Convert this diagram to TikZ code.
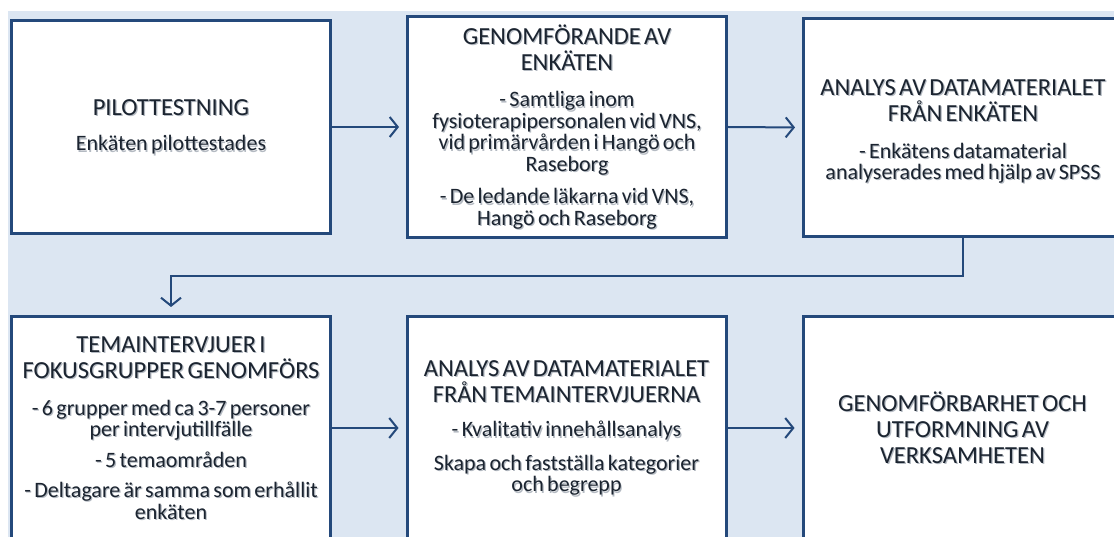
\documentclass[tikz,border=0pt]{standalone}
\usepackage{fontspec}
\setmainfont{Carlito}
\usetikzlibrary{arrows.meta,calc}

\definecolor{bgblue}{HTML}{DCE6F2}
\definecolor{edgeblue}{HTML}{24497B}
\definecolor{inkdark}{HTML}{1B2430}
\definecolor{inkshade}{HTML}{B4BAC2}

% heading and body type for the stage boxes
\newcommand\ttl{\fontsize{24.5}{26}\selectfont\lineskiplimit=-60pt}
\newcommand\bdy{\fontsize{22}{21.5}\selectfont\lineskiplimit=-60pt}

% stage text with a soft drop shadow: #1 name, #2 box it sits in, #3 text
\newcommand\stagelabel[3]{%
  \node[labelshade] (#1s) at ($(#2)+(1.2,1.2)$) {#3\par};
  \node[labeltext] (#1) at (#2) {#3\par};}

\begin{document}
\begin{tikzpicture}[x=1pt,y=-1pt,
  stagebox/.style={draw=edgeblue, line width=3pt, fill=white,
    minimum width=319pt, inner sep=0pt},
  labeltext/.style={align=center, text width=318pt, inner sep=0pt, text=inkdark},
  labelshade/.style={labeltext, text=inkshade},
  flow/.style={draw=edgeblue, line width=2pt,
    -{Straight Barb[length=8pt,width=20pt,line width=2pt]}}]

\useasboundingbox (0,0) rectangle (1114,537);
\clip (0,0) rectangle (1114,537);
\fill[bgblue] (8,11) rectangle (1130,560);

% stage boxes
\node[stagebox, minimum height=213pt] (b1) at (171,127) {};
\node[stagebox, minimum height=221pt] (b2) at (567,127) {};
\node[stagebox, minimum height=218pt] (b3) at (963,127.5) {};
\node[stagebox, minimum height=223pt] (b4) at (171,428) {};
\node[stagebox, minimum height=223pt] (b5) at (566.5,428) {};
\node[stagebox, minimum height=223pt] (b6) at (962.5,428) {};

% stage texts
\stagelabel{t1}{b1}{\ttl PILOTTESTNING\\[14pt]\bdy Enkäten pilottestades}
\stagelabel{t2}{b2}{\ttl GENOMFÖRANDE AV\\ENKÄTEN\\[15pt]\bdy - Samtliga inom\\fysioterapipersonalen vid VNS,\\vid primärvården i Hangö och\\Raseborg\\[11pt]- De ledande läkarna vid VNS,\\Hangö och Raseborg}
\stagelabel{t3}{$(b3)+(0,4)$}{\ttl ANALYS AV DATAMATERIALET\\FRÅN ENKÄTEN\\[15pt]\bdy - Enkätens datamaterial\\analyserades med hjälp av SPSS}
\stagelabel{t4}{b4}{\ttl TEMAINTERVJUER I\\FOKUSGRUPPER GENOMFÖRS\\[15pt]\bdy - 6 grupper med ca 3-7 personer\\per intervjutillfälle\\[9pt]- 5 temaområden\\[9pt]- Deltagare är samma som erhållit\\enkäten}
\stagelabel{t5}{b5}{\ttl ANALYS AV DATAMATERIALET\\FRÅN TEMAINTERVJUERNA\\[13pt]\bdy - Kvalitativ innehållsanalys\\[12pt]Skapa och fastställa kategorier\\och begrepp}
\stagelabel{t6}{b6}{\ttl GENOMFÖRBARHET OCH\\UTFORMNING AV\\VERKSAMHETEN}

% connectors
\coordinate (turn) at (0,276);
\draw[flow, shorten >=7pt] (b1.east) -- (b2.west);
\draw[flow, shorten >=7pt] (b2.east) -- (b3.west);
\draw[flow, shorten >=8pt] (b3.south) -- (b3.south |- turn) -| (b4.north);
\draw[flow, shorten >=7pt] (b4.east) -- (b5.west);
\draw[flow, shorten >=7pt] (b5.east) -- (b6.west);

\end{tikzpicture}
\end{document}
